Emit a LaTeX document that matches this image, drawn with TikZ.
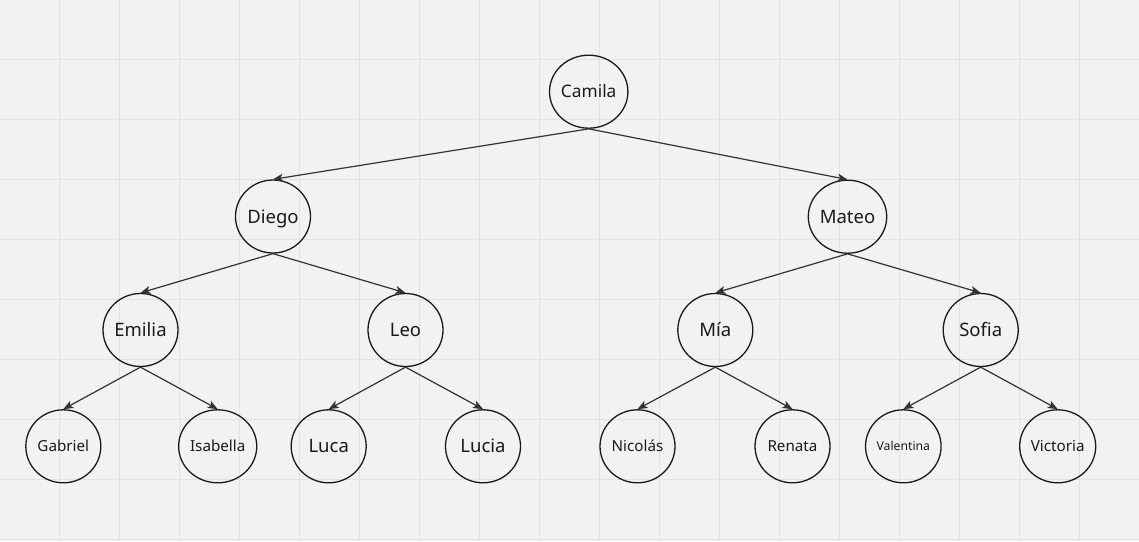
\documentclass[tikz,border=0pt]{standalone}
\usepackage{fontspec}
\setmainfont{Noto Sans}
\usetikzlibrary{shapes.geometric,arrows.meta}
\definecolor{bgc}{HTML}{F2F2F2}
\definecolor{gridc}{HTML}{E2E2E2}
\definecolor{inkc}{HTML}{1A1A1A}
\definecolor{edgec}{HTML}{333333}
\tikzset{
  person/.style={ellipse, draw=inkc, line width=1.3pt, minimum width=75pt, minimum height=73pt, inner sep=0pt, text=inkc, text depth=0pt},
  fsA/.style={font=\fontsize{17.3}{20}\selectfont, text height=12.35pt},
  fsB/.style={font=\fontsize{18.5}{21}\selectfont, text height=13.2pt},
  fsC/.style={font=\fontsize{15.2}{18}\selectfont, text height=10.85pt},
  fsD/.style={font=\fontsize{12.2}{14}\selectfont, text height=8.7pt},
  link/.style={draw=edgec, line width=1.2pt, -{Stealth[length=10pt,width=8pt,inset=2.5pt]}}
}
\begin{document}
\begin{tikzpicture}[x=1pt,y=-1pt]
\useasboundingbox (0,0) rectangle (1139,541);
\fill[bgc] (0,0) rectangle (1139,541);
\foreach \i in {0,...,17} \draw[gridc, line width=1pt] (59.5+60*\i,0) -- (59.5+60*\i,541);
\foreach \j in {0,...,8} \draw[gridc, line width=1pt] (0,59.5+60*\j) -- (1139,59.5+60*\j);
% level 1
\node[person,fsA] (camila) at (588.7,91.7) {Camila};
% level 2
\node[person,fsB] (diego) at (273,216.5) {Diego};
\node[person,fsB] (mateo) at (847.5,216.7) {Mateo};
% level 3
\node[person,fsB] (emilia) at (140.5,330) {Emilia};
\node[person,fsB] (leo) at (405.5,330) {Leo};
\node[person,fsB] (mia) at (715.3,330) {Mía};
\node[person,fsB] (sofia) at (980.7,330) {Sofia};
% level 4
\node[person,fsC] (gabriel) at (63.3,446.3) {Gabriel};
\node[person,fsC] (isabella) at (217.7,446.3) {Isabella};
\node[person,fsB] (luca) at (328.7,446.3) {Luca};
\node[person,fsB] (lucia) at (483,446.3) {Lucia};
\node[person,fsC] (nicolas) at (637.5,446.3) {Nicolás};
\node[person,fsC] (renata) at (792.5,446.3) {Renata};
\node[person,fsD] (valentina) at (903.3,446.3) {Valentina};
\node[person,fsC] (victoria) at (1057.7,446.3) {Victoria};
% connectors
\draw[link] (camila.south) -- (diego.north);
\draw[link] (camila.south) -- (mateo.north);
\draw[link] (diego.south) -- (emilia.north);
\draw[link] (diego.south) -- (leo.north);
\draw[link] (mateo.south) -- (mia.north);
\draw[link] (mateo.south) -- (sofia.north);
\draw[link] (emilia.south) -- (gabriel.north);
\draw[link] (emilia.south) -- (isabella.north);
\draw[link] (leo.south) -- (luca.north);
\draw[link] (leo.south) -- (lucia.north);
\draw[link] (mia.south) -- (nicolas.north);
\draw[link] (mia.south) -- (renata.north);
\draw[link] (sofia.south) -- (valentina.north);
\draw[link] (sofia.south) -- (victoria.north);
\end{tikzpicture}
\end{document}
